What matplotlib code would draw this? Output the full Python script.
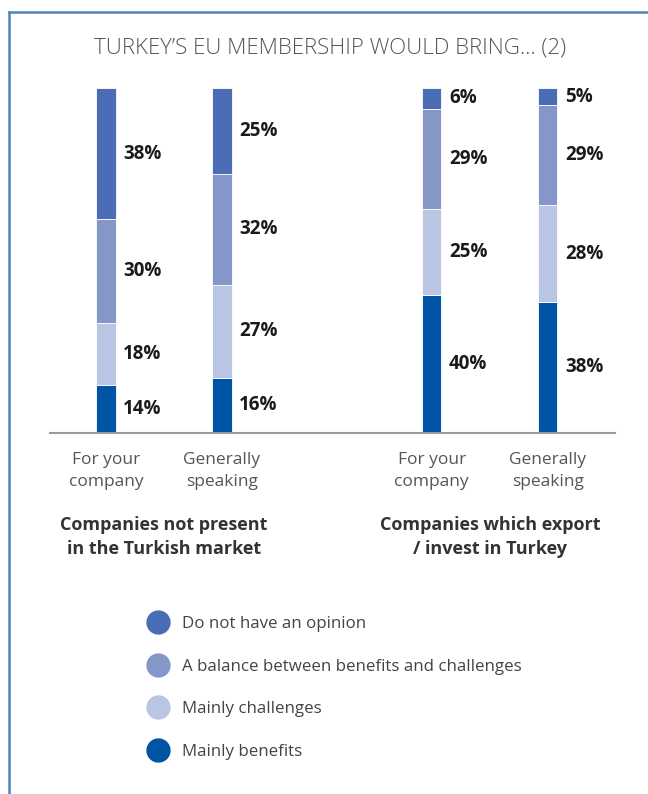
import matplotlib
matplotlib.use("Agg")
import matplotlib.pyplot as plt
from matplotlib.lines import Line2D
import numpy as np

plt.rcParams['font.family'] = ['Open Sans', 'DejaVu Sans']

title = "TURKEY\u2019S EU MEMBERSHIP WOULD BRING... (2)"
bar_labels = ["For your\ncompany", "Generally\nspeaking", "For your\ncompany", "Generally\nspeaking"]
group_labels = ["Companies not present\nin the Turkish market", "Companies which export\n/ invest in Turkey"]
series_names = ["Mainly benefits", "Mainly challenges",
                "A balance between benefits and challenges", "Do not have an opinion"]
mainly_benefits = [14, 16, 40, 38]
mainly_challenges = [18, 27, 25, 28]
balance = [30, 32, 29, 29]
no_opinion = [38, 25, 6, 5]
series_values = [mainly_benefits, mainly_challenges, balance, no_opinion]
colors = ["#0054a6", "#bac4e3", "#8596c9", "#4b6db5"]

positions = np.array([0.0, 1.0, 2.81, 3.81])
width = 0.165

fig = plt.figure(figsize=(6.48, 7.94), dpi=100)
ax = fig.add_axes([50/648, 1-433/794, 565/648, 345/794])

bottom = np.zeros(4)
for vals, col in zip(series_values, colors):
    vals = np.array(vals, dtype=float)
    ax.bar(positions, vals, width, bottom=bottom, color=col, edgecolor='white', linewidth=0.6)
    for x, b, v in zip(positions, bottom, vals):
        ax.text(x + width/2 + 0.065, b + v/2, f"{int(v)}%", ha='left', va='center',
                fontsize=13.5, fontweight='bold', color='#1a1a1a')
    bottom += vals

ax.set_xlim(-0.483, 4.39)
ax.set_ylim(0, 100)
for s in ['top', 'right', 'left']:
    ax.spines[s].set_visible(False)
ax.spines['bottom'].set_color('#9a9a9a')
ax.spines['bottom'].set_linewidth(1.5)
ax.set_yticks([])
ax.set_xticks(positions)
ax.set_xticklabels(bar_labels, fontsize=12.5, color='#555555', linespacing=1.45)
ax.tick_params(axis='x', length=0, pad=14)

# group labels
for gx, lab in zip([(positions[0]+positions[1])/2, (positions[2]+positions[3])/2], group_labels):
    ax.annotate(lab, xy=(gx, 0), xycoords=('data', 'axes fraction'),
                xytext=(0, -59.5), textcoords='offset points', ha='center', va='top',
                fontsize=13, fontweight='bold', color='#333333', linespacing=1.42)

fig.text(0.51, 1-48/794, title, ha='center', va='center', fontsize=16,
         color='#555555', fontweight='light')

# legend
handles = [Line2D([], [], marker='o', linestyle='none', markersize=16.5,
                  markerfacecolor=colors[i], markeredgecolor=colors[i]) for i in [3, 2, 1, 0]]
labels = [series_names[i] for i in [3, 2, 1, 0]]
fig.legend(handles, labels, loc='upper left', bbox_to_anchor=(134/648, 1-609/794),
           frameon=False, fontsize=12.2, labelcolor='#444444', labelspacing=1.58,
           handletextpad=0.45, borderaxespad=0)

# frame
fig.add_artist(Line2D([8.5/648, 1], [1-12/794, 1-12/794], color='#4a86b6', linewidth=1.8,
                      transform=fig.transFigure))
fig.add_artist(Line2D([8.5/648, 8.5/648], [0, 1-12/794], color='#4a86b6', linewidth=1.8,
                      transform=fig.transFigure))

fig.savefig("out.png", dpi=100)
